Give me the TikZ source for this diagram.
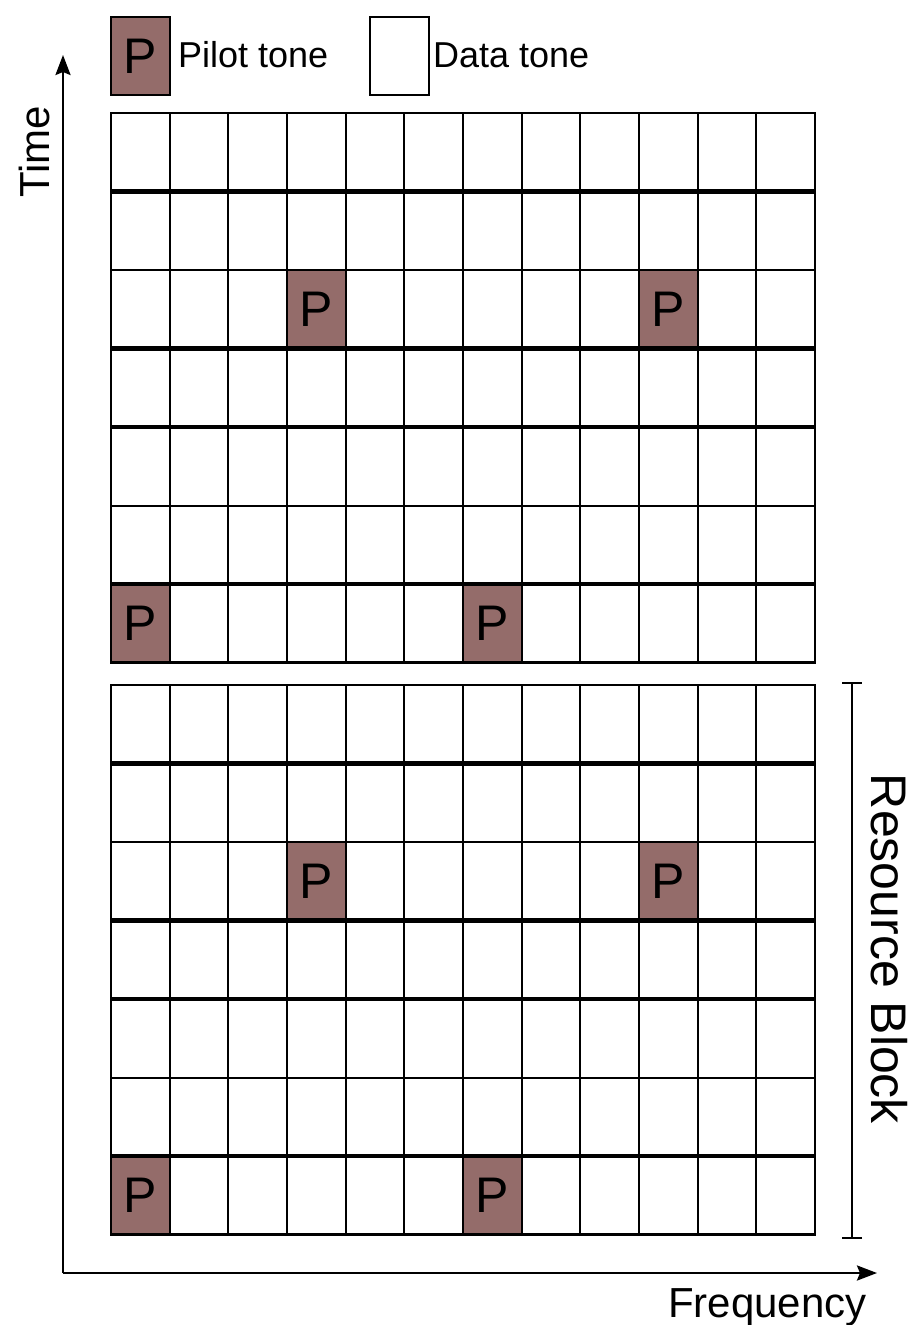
\documentclass[tikz,border=0pt]{standalone}
\usepackage{fontspec}
\setmainfont{Liberation Sans}
\usetikzlibrary{arrows.meta}
\definecolor{pilotc}{RGB}{148,108,106}
\begin{document}
\begin{tikzpicture}[x=1pt,y=-1pt,
  pilot/.style={draw=black, line width=2pt, fill=pilotc, minimum width=58.7pt, minimum height=78.5pt, inner sep=0pt, font=\fontsize{50}{50}\selectfont},
  datacell/.style={draw=black, line width=2pt, fill=white, minimum width=58.7pt, minimum height=78.5pt, inner sep=0pt},
  gridthin/.style={line width=2pt},
  gridthick/.style={line width=4.5pt},
  gridframe/.style={line width=2.2pt},
  axisline/.style={line width=2.5pt, -{Stealth[length=20pt,width=15pt,inset=3pt]}},
  bracket/.style={line width=2.2pt, {Bar[width=20pt]}-{Bar[width=20pt]}},
  lbl/.style={font=\fontsize{36}{36}\selectfont, inner sep=0pt},
  axlbl/.style={font=\fontsize{42}{42}\selectfont, inner sep=0pt},
  rblbl/.style={font=\fontsize{50}{50}\selectfont, inner sep=0pt}
]
\useasboundingbox (0,0) rectangle (909,1325);

% legend
\node[pilot] (legP) at (140.5,56) {P};
\node[lbl, anchor=base west] (legPt) at (178,67) {Pilot tone};
\node[datacell] (legD) at (399.5,56) {};
\node[lbl, anchor=base west] (legDt) at (433,67) {Data tone};

\def\W{58.667}
\def\H{78.5}
\foreach \T/\nm in {113/a,685/b}{
  \fill[white] (111,\T) rectangle (815,\T+7*\H);
  % pilots
  \foreach \r/\c/\k in {2/3/1,2/9/2,6/0/3,6/6/4}{
    \node[pilot] (p\nm\k) at (111+\c*\W+0.5*\W, \T+\r*\H+0.5*\H) {P};
  }
  % vertical lines
  \foreach \i in {1,...,11}{
    \draw[gridthin] (111+\i*\W,\T) -- (111+\i*\W,\T+7*\H);
  }
  % horizontal lines
  \foreach \j in {2,5}{
    \draw[gridthin] (111,\T+\j*\H) -- (815,\T+\j*\H);
  }
  \foreach \j in {1,3,4,6}{
    \draw[gridthick] (111,\T+\j*\H) -- (815,\T+\j*\H);
  }
  \draw[gridframe] (111,\T) rectangle (815,\T+7*\H);
}

% axes
\coordinate (orig) at (63,1273);
\coordinate (ttip) at (63,55);
\coordinate (ftip) at (877,1273);
\draw[axisline] (orig) -- (ttip);
\draw[axisline] (orig) -- (ftip);
\node[axlbl, rotate=90] (tlbl) at (34,152) {Time};
\node[axlbl, anchor=base west] (flbl) at (668,1317) {Frequency};

% resource block bracket
\coordinate (rbt) at (852,682);
\coordinate (rbb) at (852,1239);
\draw[bracket] (rbt) -- (rbb);
\node[rblbl, rotate=-90] (rblab) at (889,949) {Resource Block};
\end{tikzpicture}
\end{document}
